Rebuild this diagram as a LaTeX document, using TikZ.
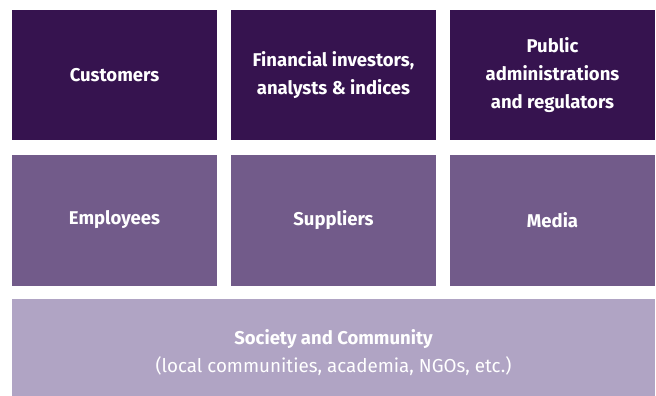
\documentclass[tikz,border=0pt]{standalone}
\usepackage{fontspec}
\setmainfont{Fira Sans}
\definecolor{plumdark}{HTML}{36134F}
\definecolor{plummid}{HTML}{725B8A}
\definecolor{plumlight}{HTML}{B0A4C4}
\begin{document}
\begin{tikzpicture}[
		x=1pt, y=-1pt,
		tile/.style={inner sep=0pt, minimum width=205pt, minimum height=130pt,
			text=white, align=center, font=\fontsize{18.5}{28}\selectfont\bfseries},
		top/.style={tile, fill=plumdark},
		mid/.style={tile, fill=plummid, minimum height=131pt},
		wide/.style={tile, fill=plumlight, minimum width=643pt, minimum height=97pt}
		]
		
		\useasboundingbox (0,0) rectangle (656,396);
		
		\node[top] (cust) at (114.5,75) {Customers};
		\node[top] (fin) at (333.5,75) {Financial investors,\\analysts \& indices};
		\node[top] (pub) at (552.5,75) {Public\\administrations\\and regulators};
		
		\node[mid] (empl) at (114.5,220) {Employees};
		\node[mid] (supp) at (333.5,220) {Suppliers};
		\node[mid] (media) at (552.5,220) {Media};
		
		% strut on the first line pushes both lines a little lower
		\node[wide] (soc) at (333.5,347.5) {\rule{0pt}{26pt}Society and Community\\
			{\mdseries\fontsize{18.8}{28}\selectfont (local communities, academia, NGOs, etc.)}};
	\end{tikzpicture}
\end{document}
